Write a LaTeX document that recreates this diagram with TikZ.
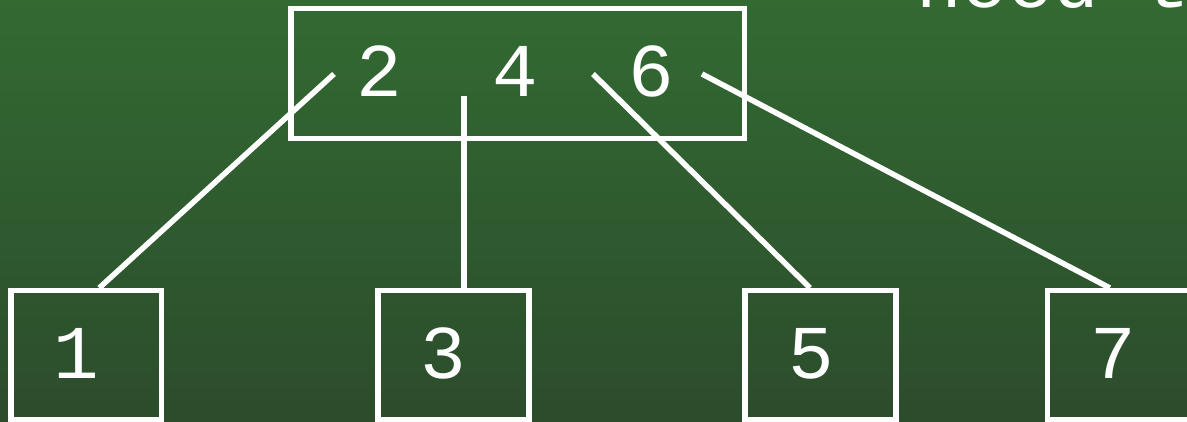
\documentclass[tikz,border=0pt]{standalone}
\usepackage{fontspec}
\setmonofont{Liberation Mono}
\definecolor{slidetop}{RGB}{50,106,50}
\definecolor{slidebottom}{RGB}{44,76,44}
\begin{document}
\begin{tikzpicture}[x=1pt, y=-1pt,
        keybox/.style={draw=white, line width=5.5pt, minimum width=150.6pt, minimum height=129pt, inner sep=0pt},
        key/.style={text=white, font=\ttfamily\fontsize{76}{76}\selectfont, inner sep=0pt, anchor=base},
        edge/.style={draw=white, line width=5.5pt}]
        \useasboundingbox (0,0) rectangle (1187,422);
        \clip (0,0) rectangle (1187,422);
        \shade[top color=slidetop, bottom color=slidebottom] (0,0) rectangle (1187,422);
        \node[key, anchor=base west] (note) at (916,8) {need t};
        % inner node with three keys
        \node[keybox, minimum width=453.5pt, minimum height=130pt] (root) at (517.7,73.6) {};
        \node[key] (k2) at (379,97) {2};
        \node[key] (k4) at (515,97) {4};
        \node[key] (k6) at (651,97) {6};
        % leaves
        \node[keybox] (n1) at (86.2,355.2) {};
        \node[keybox] (n3) at (453.5,355.2) {};
        \node[keybox] (n5) at (820.5,355.2) {};
        \node[keybox] (n7) at (1122.8,355.2) {};
        \node[key] (d1) at (76,378) {1};
        \node[key] (d3) at (443.5,378) {3};
        \node[key] (d5) at (811,378) {5};
        \node[key] (d7) at (1113,378) {7};
        % child pointers
        \coordinate (p1) at (334,74);
        \coordinate (p3) at (464,96);
        \coordinate (p5) at (593,74);
        \coordinate (p7) at (702,74);
        \draw[edge] (p1) -- ([xshift=13pt]n1.north);
        \draw[edge] (p3) -- ([xshift=10.5pt]n3.north);
        \draw[edge] (p5) -- ([xshift=-10.5pt]n5.north);
        \draw[edge] (p7) -- ([xshift=-13pt]n7.north);
    \end{tikzpicture}
\end{document}
